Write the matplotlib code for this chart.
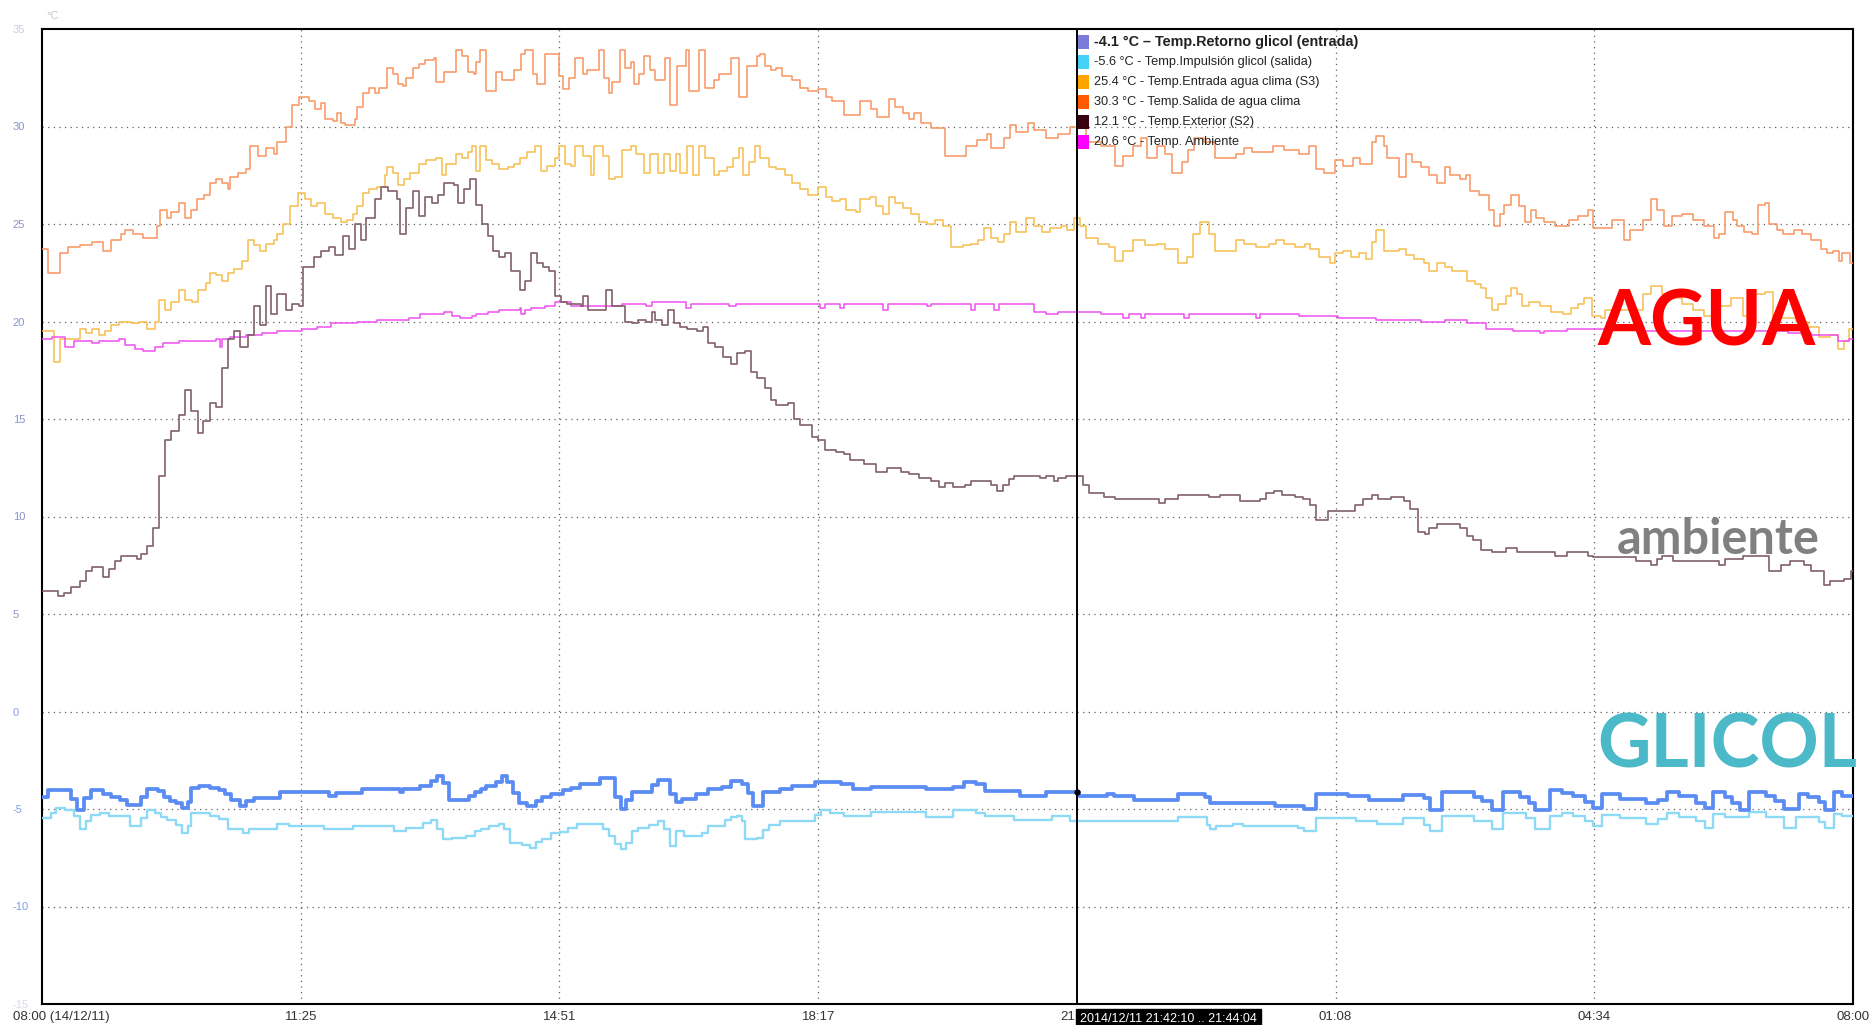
import matplotlib as mpl
mpl.use('Agg')
import matplotlib.pyplot as plt
import matplotlib.transforms as mtransforms

# time in hours after 08:00 (14/12/11), values in degC
# Temp.Salida de agua clima
salida = [(0.00, 23.7), (0.08, 22.5), (0.24, 23.5), (0.34, 23.8), (0.50, 23.9), (0.66, 24.1), (0.81, 23.6),
          (0.92, 24.2), (1.05, 24.5), (1.10, 24.7), (1.21, 24.5), (1.34, 24.3), (1.52, 24.9), (1.57, 25.7),
          (1.65, 25.3), (1.71, 25.6), (1.81, 26.1), (1.89, 25.3), (1.97, 25.7), (2.05, 26.3), (2.15, 26.5),
          (2.23, 27.1), (2.31, 27.3), (2.39, 27.1), (2.47, 26.8), (2.49, 27.4), (2.60, 27.6), (2.70, 27.8),
          (2.76, 29.0), (2.86, 28.5), (2.97, 28.9), (3.07, 28.6), (3.12, 29.2), (3.23, 30.0), (3.31, 31.1),
          (3.41, 31.5), (3.54, 31.3), (3.62, 30.9), (3.70, 31.2), (3.75, 30.4), (3.86, 30.3), (3.91, 30.7),
          (3.96, 30.2), (4.02, 30.1), (4.15, 30.4), (4.17, 31.0), (4.25, 31.7), (4.33, 32.0), (4.41, 31.7),
          (4.46, 32.0), (4.57, 33.0), (4.65, 32.7), (4.72, 32.2), (4.78, 32.1), (4.83, 32.5), (4.91, 33.0),
          (4.99, 33.2), (5.07, 33.4), (5.20, 33.5), (5.22, 32.3), (5.33, 32.8), (5.49, 33.9), (5.56, 33.6),
          (5.64, 32.8), (5.72, 32.7), (5.75, 33.3), (5.80, 33.9), (5.88, 31.8), (6.01, 32.8), (6.09, 32.4),
          (6.25, 32.9), (6.35, 33.7), (6.40, 33.9), (6.51, 32.7), (6.56, 32.2), (6.67, 33.7), (6.85, 32.6),
          (6.90, 31.9), (6.98, 32.5), (7.06, 33.5), (7.17, 32.7), (7.22, 32.9), (7.38, 33.9), (7.45, 32.5),
          (7.51, 31.7), (7.56, 32.3), (7.66, 33.9), (7.72, 33.0), (7.80, 33.3), (7.85, 32.2), (7.91, 32.7),
          (7.98, 33.6), (8.06, 32.9), (8.13, 32.4), (8.26, 33.5), (8.32, 31.1), (8.42, 33.1), (8.53, 33.9),
          (8.58, 31.8), (8.71, 33.9), (8.79, 32.0), (8.90, 32.4), (8.97, 32.7), (9.13, 33.5), (9.24, 31.5),
          (9.34, 33.1), (9.47, 33.6), (9.52, 33.7), (9.58, 33.1), (9.66, 32.9), (9.73, 33.0), (9.81, 32.6),
          (9.94, 32.4), (10.05, 32.0), (10.15, 31.8), (10.29, 31.9), (10.39, 31.5), (10.47, 31.3),
          (10.63, 30.6), (10.84, 31.3), (10.99, 30.9), (11.07, 30.5), (11.23, 31.4), (11.31, 31.0),
          (11.41, 30.7), (11.49, 30.4), (11.55, 30.7), (11.65, 30.2), (11.78, 29.9), (11.97, 28.5),
          (12.25, 29.0), (12.39, 29.3), (12.52, 29.6), (12.57, 28.9), (12.75, 29.4), (12.83, 30.1),
          (12.91, 29.7), (13.07, 30.2), (13.15, 29.8), (13.30, 29.4), (13.46, 29.6), (13.62, 30.0),
          (13.83, 29.2), (14.04, 29.0), (14.22, 28.0), (14.33, 28.5), (14.46, 29.0), (14.56, 29.4),
          (14.64, 28.4), (14.77, 29.0), (14.88, 28.6), (14.98, 27.6), (15.11, 28.2), (15.19, 28.8),
          (15.27, 29.4), (15.40, 29.2), (15.54, 28.4), (15.82, 28.6), (15.93, 28.9), (16.03, 28.7),
          (16.31, 29.0), (16.46, 28.8), (16.66, 28.6), (16.79, 29.0), (16.89, 27.8), (16.99, 27.6),
          (17.14, 28.3), (17.24, 28.0), (17.37, 28.4), (17.47, 28.1), (17.62, 29.2), (17.68, 29.5),
          (17.78, 29.0), (17.83, 28.4), (17.98, 27.4), (18.08, 28.6), (18.16, 28.2), (18.28, 27.9),
          (18.38, 27.5), (18.49, 27.1), (18.59, 27.9), (18.66, 27.5), (18.79, 27.3), (18.87, 27.5),
          (18.92, 26.7), (19.04, 26.5), (19.17, 25.7), (19.24, 24.9), (19.32, 25.5), (19.37, 26.0),
          (19.47, 26.5), (19.57, 25.9), (19.65, 25.1), (19.73, 25.7), (19.80, 25.3), (19.90, 25.1),
          (20.05, 24.9), (20.23, 25.2), (20.36, 25.4), (20.49, 25.7), (20.56, 24.8), (20.81, 25.2),
          (20.97, 24.2), (21.04, 24.7), (21.22, 25.2), (21.32, 26.3), (21.40, 25.7), (21.50, 24.9),
          (21.60, 25.4), (21.73, 25.5), (21.88, 25.2), (22.03, 24.9), (22.16, 24.3), (22.23, 24.5),
          (22.31, 25.6), (22.41, 25.2), (22.46, 24.9), (22.56, 24.6), (22.66, 24.5), (22.74, 26.0),
          (22.84, 26.1), (22.89, 25.0), (22.99, 24.7), (23.07, 24.5), (23.22, 24.7), (23.32, 24.5),
          (23.45, 24.2), (23.57, 23.7), (23.65, 23.5), (23.73, 23.6), (23.81, 23.1), (23.86, 23.5),
          (23.96, 23.0)]

# Temp.Entrada agua clima (S3)
entrada = [(0.00, 19.5), (0.16, 17.9), (0.24, 19.1), (0.50, 19.6), (0.58, 19.4), (0.66, 19.6), (0.76, 19.3),
           (0.84, 19.5), (0.92, 19.8), (1.02, 20.0), (1.18, 19.9), (1.29, 20.0), (1.39, 19.6), (1.50, 20.0),
           (1.55, 21.1), (1.63, 20.6), (1.71, 21.0), (1.81, 21.6), (1.89, 21.1), (1.99, 21.0), (2.07, 21.6),
           (2.18, 22.0), (2.23, 22.5), (2.31, 22.4), (2.39, 22.1), (2.47, 22.5), (2.55, 22.7), (2.65, 23.1),
           (2.73, 24.2), (2.81, 23.9), (2.89, 23.6), (2.97, 24.0), (3.07, 24.2), (3.12, 24.5), (3.20, 25.0),
           (3.28, 25.9), (3.39, 26.6), (3.49, 26.3), (3.57, 25.9), (3.65, 26.1), (3.75, 25.5), (3.86, 25.3),
           (3.96, 25.1), (4.04, 25.2), (4.12, 25.5), (4.17, 25.9), (4.25, 26.6), (4.33, 26.8), (4.44, 26.9),
           (4.54, 27.5), (4.57, 27.9), (4.65, 27.6), (4.72, 27.0), (4.80, 27.3), (4.88, 27.6), (4.99, 28.1),
           (5.09, 28.3), (5.22, 28.4), (5.30, 27.5), (5.35, 28.1), (5.49, 28.6), (5.56, 28.4), (5.64, 28.7),
           (5.70, 29.0), (5.75, 27.7), (5.80, 29.0), (5.88, 28.3), (5.96, 28.1), (6.06, 27.8), (6.17, 27.9),
           (6.25, 28.1), (6.33, 28.4), (6.43, 28.7), (6.54, 29.0), (6.61, 27.7), (6.69, 28.0), (6.80, 28.4),
           (6.85, 29.0), (6.93, 28.1), (7.01, 28.0), (7.06, 29.0), (7.17, 28.5), (7.27, 27.5), (7.32, 29.0),
           (7.43, 28.5), (7.51, 27.3), (7.59, 27.4), (7.69, 28.8), (7.80, 29.0), (7.87, 28.6), (7.98, 27.6),
           (8.06, 28.6), (8.16, 27.6), (8.24, 28.6), (8.32, 27.7), (8.40, 28.6), (8.45, 27.6), (8.55, 29.0),
           (8.63, 27.5), (8.71, 29.0), (8.79, 28.4), (8.90, 27.5), (8.97, 27.7), (9.08, 27.9), (9.16, 28.4),
           (9.24, 28.9), (9.29, 27.5), (9.37, 28.2), (9.45, 29.0), (9.52, 28.4), (9.63, 27.9), (9.73, 27.8),
           (9.84, 27.5), (9.94, 27.1), (10.05, 26.8), (10.15, 26.5), (10.29, 26.9), (10.39, 26.4),
           (10.47, 26.2), (10.57, 26.3), (10.65, 25.7), (10.79, 25.6), (10.84, 26.3), (10.97, 26.4),
           (11.05, 25.9), (11.15, 25.5), (11.23, 26.4), (11.31, 26.1), (11.41, 25.8), (11.52, 25.5),
           (11.62, 25.1), (11.73, 25.0), (11.83, 25.2), (11.94, 24.9), (12.04, 23.8), (12.20, 23.9),
           (12.31, 24.0), (12.41, 24.2), (12.49, 24.8), (12.57, 24.3), (12.67, 24.1), (12.75, 24.5),
           (12.83, 25.1), (12.91, 24.6), (13.04, 25.3), (13.15, 24.9), (13.25, 24.6), (13.36, 24.8),
           (13.51, 24.9), (13.59, 24.7), (13.67, 25.3), (13.75, 24.9), (13.83, 24.3), (13.99, 24.0),
           (14.14, 23.8), (14.22, 23.1), (14.33, 23.6), (14.46, 24.2), (14.62, 23.9), (14.77, 24.0),
           (14.88, 23.7), (15.06, 23.0), (15.17, 23.3), (15.25, 24.5), (15.35, 25.1), (15.46, 24.5),
           (15.54, 23.6), (15.82, 24.2), (15.93, 24.0), (16.09, 23.8), (16.26, 24.0), (16.36, 24.2),
           (16.46, 24.0), (16.61, 23.8), (16.74, 24.0), (16.81, 23.7), (16.92, 23.3), (17.07, 23.0),
           (17.14, 23.5), (17.24, 23.6), (17.35, 23.3), (17.45, 23.5), (17.55, 23.2), (17.62, 24.1),
           (17.68, 24.7), (17.78, 23.6), (17.98, 23.7), (18.08, 23.4), (18.18, 23.2), (18.31, 23.0),
           (18.38, 22.6), (18.49, 23.0), (18.59, 22.8), (18.69, 22.6), (18.89, 22.1), (18.99, 21.9),
           (19.07, 21.7), (19.14, 21.2), (19.22, 20.6), (19.30, 20.9), (19.40, 21.3), (19.47, 21.7),
           (19.55, 21.4), (19.62, 20.8), (19.70, 21.0), (19.85, 20.8), (20.00, 20.5), (20.16, 20.4),
           (20.26, 20.7), (20.36, 20.9), (20.43, 21.2), (20.54, 20.3), (20.66, 20.2), (20.71, 20.6),
           (21.22, 21.4), (21.32, 21.8), (21.47, 21.4), (21.57, 21.2), (21.73, 20.9), (21.88, 20.6),
           (22.03, 20.3), (22.23, 20.8), (22.38, 21.2), (22.54, 20.3), (22.69, 21.4), (22.84, 21.5),
           (22.94, 20.2), (23.25, 20.0), (23.40, 19.7), (23.55, 19.2), (23.70, 19.3), (23.80, 18.6),
           (23.88, 19.0), (23.95, 19.6)]

# Temp. Ambiente
ambiente = [(0.00, 19.1), (0.13, 19.2), (0.31, 18.7), (0.42, 19.0), (0.66, 18.9), (0.76, 19.0), (1.02, 19.1),
            (1.10, 18.8), (1.23, 18.6), (1.34, 18.5), (1.50, 18.7), (1.60, 18.9), (1.81, 19.0), (2.31, 19.1),
            (2.36, 18.7), (2.39, 19.1), (2.49, 19.2), (2.70, 19.3), (2.91, 19.4), (3.12, 19.5), (3.44, 19.6),
            (3.65, 19.7), (3.83, 19.9), (4.17, 20.0), (4.44, 20.1), (4.86, 20.2), (5.01, 20.4), (5.33, 20.5),
            (5.43, 20.3), (5.54, 20.2), (5.70, 20.3), (5.75, 20.4), (5.91, 20.5), (6.06, 20.6), (6.33, 20.7),
            (6.35, 20.4), (6.40, 20.6), (6.48, 20.7), (6.67, 20.8), (6.80, 21.0), (7.01, 20.8), (7.69, 20.9),
            (8.01, 20.8), (8.08, 21.0), (8.53, 20.7), (8.60, 20.9), (9.10, 20.8), (9.20, 20.9), (10.31, 20.7),
            (10.37, 20.9), (10.57, 20.7), (10.63, 20.9), (11.15, 20.6), (11.21, 20.9), (11.73, 20.8),
            (11.78, 20.9), (12.31, 20.6), (12.36, 20.9), (12.62, 20.6), (12.68, 20.9), (13.15, 20.5),
            (13.30, 20.4), (13.46, 20.5), (14.04, 20.4), (14.33, 20.2), (14.41, 20.4), (14.56, 20.2),
            (14.62, 20.4), (15.14, 20.2), (15.20, 20.4), (16.09, 20.2), (16.14, 20.4), (16.66, 20.3),
            (17.17, 20.2), (17.68, 20.1), (18.28, 20.0), (18.59, 20.1), (18.89, 19.9), (19.14, 19.6),
            (19.50, 19.5), (19.85, 19.4), (19.90, 19.5), (20.21, 19.6), (21.22, 19.5), (23.14, 19.4),
            (23.45, 19.3), (23.80, 19.0), (23.95, 19.1)]

# Temp.Exterior (S2)
exterior = [(0.00, 6.2), (0.21, 5.9), (0.29, 6.1), (0.39, 6.4), (0.50, 6.7), (0.58, 7.2), (0.66, 7.4), (0.81, 6.9),
            (0.89, 7.3), (0.97, 7.7), (1.05, 8.0), (1.26, 7.8), (1.31, 8.1), (1.39, 8.5), (1.47, 9.4), (1.55, 12.1),
            (1.63, 13.9), (1.71, 14.4), (1.81, 15.2), (1.89, 16.5), (1.97, 15.4), (2.07, 14.3), (2.13, 14.9),
            (2.23, 15.8), (2.31, 15.6), (2.39, 17.6), (2.47, 19.1), (2.55, 19.5), (2.62, 18.7), (2.73, 19.3),
            (2.81, 20.8), (2.89, 19.8), (2.97, 21.8), (3.04, 20.4), (3.12, 21.4), (3.23, 20.6), (3.31, 20.9),
            (3.41, 20.8), (3.46, 22.8), (3.60, 23.3), (3.70, 23.6), (3.81, 23.8), (3.88, 23.4), (3.99, 24.4),
            (4.07, 23.7), (4.15, 25.0), (4.23, 24.2), (4.30, 25.3), (4.41, 26.3), (4.49, 26.9), (4.59, 26.7),
            (4.70, 26.3), (4.75, 24.5), (4.83, 25.8), (4.91, 26.7), (4.99, 25.4), (5.07, 26.4), (5.17, 26.1),
            (5.25, 26.5), (5.33, 27.1), (5.46, 27.0), (5.51, 26.1), (5.59, 26.8), (5.67, 27.3), (5.75, 26.0),
            (5.83, 25.0), (5.91, 24.4), (5.98, 23.6), (6.06, 23.3), (6.14, 23.5), (6.22, 22.6), (6.33, 21.6),
            (6.40, 22.1), (6.48, 23.5), (6.56, 23.0), (6.64, 22.8), (6.72, 22.6), (6.80, 21.3), (6.88, 21.0),
            (6.96, 20.9), (7.14, 20.8), (7.17, 21.3), (7.24, 20.6), (7.48, 21.6), (7.56, 20.8), (7.72, 20.0),
            (7.82, 19.9), (7.90, 20.1), (8.01, 20.0), (8.08, 20.5), (8.13, 20.1), (8.21, 19.8), (8.29, 20.6),
            (8.37, 19.9), (8.45, 19.7), (8.55, 19.6), (8.68, 19.5), (8.76, 19.7), (8.82, 18.9), (8.92, 18.7),
            (9.03, 18.2), (9.13, 17.8), (9.21, 18.4), (9.31, 18.5), (9.39, 17.4), (9.47, 17.1), (9.58, 16.6),
            (9.66, 16.0), (9.73, 15.7), (9.89, 15.8), (9.97, 15.0), (10.05, 14.7), (10.21, 14.1), (10.29, 13.9),
            (10.37, 13.4), (10.52, 13.3), (10.63, 13.2), (10.71, 12.9), (10.89, 12.7), (11.05, 12.3),
            (11.20, 12.5), (11.39, 12.3), (11.49, 12.2), (11.62, 12.0), (11.78, 11.8), (11.89, 11.5),
            (11.97, 11.7), (12.07, 11.5), (12.23, 11.6), (12.31, 11.8), (12.57, 11.6), (12.65, 11.3),
            (12.73, 11.6), (12.81, 11.9), (12.88, 12.1), (13.23, 12.0), (13.30, 12.1), (13.41, 11.8),
            (13.46, 12.0), (13.57, 12.1), (13.80, 11.6), (13.88, 11.2), (14.07, 11.0), (14.22, 10.9),
            (14.80, 10.7), (14.88, 10.9), (15.06, 11.1), (15.46, 11.0), (15.61, 11.1), (15.88, 10.8),
            (16.14, 10.9), (16.22, 11.2), (16.33, 11.3), (16.43, 11.1), (16.61, 11.0), (16.71, 10.9),
            (16.81, 10.6), (16.89, 9.8), (17.04, 10.3), (17.40, 10.6), (17.50, 10.9), (17.62, 11.1),
            (17.70, 10.9), (17.88, 11.0), (18.05, 10.8), (18.13, 10.4), (18.23, 9.2), (18.33, 9.1),
            (18.38, 9.4), (18.49, 9.6), (18.79, 9.4), (18.89, 9.0), (18.97, 8.8), (19.07, 8.3), (19.22, 8.2),
            (19.40, 8.4), (19.55, 8.2), (20.05, 8.0), (20.21, 8.2), (20.49, 8.0), (20.56, 7.9), (21.12, 7.7),
            (21.22, 7.7), (21.32, 7.5), (21.40, 7.8), (21.47, 8.0), (21.62, 7.7), (22.23, 7.5), (22.31, 7.8),
            (22.54, 8.0), (22.89, 7.2), (23.04, 7.5), (23.17, 7.7), (23.35, 7.5), (23.45, 7.2), (23.62, 6.5),
            (23.70, 6.7), (23.88, 6.8), (23.97, 7.2)]

# Temp.Retorno glicol (entrada)
retorno = [(0.00, -4.36), (0.08, -4.05), (0.39, -4.49), (0.46, -5.03), (0.56, -4.44), (0.65, -4.05),
           (0.81, -4.22), (0.92, -4.41), (1.04, -4.56), (1.12, -4.78), (1.31, -4.36), (1.39, -3.95),
           (1.54, -4.10), (1.62, -4.41), (1.69, -4.61), (1.77, -4.69), (1.85, -4.95), (1.93, -4.66),
           (1.98, -3.93), (2.08, -3.81), (2.23, -3.93), (2.35, -4.05), (2.43, -4.22), (2.50, -4.53),
           (2.62, -4.83), (2.70, -4.61), (2.81, -4.44), (3.16, -4.15), (3.81, -4.32), (3.89, -4.19),
           (4.24, -3.98), (4.74, -4.15), (4.78, -3.98), (5.01, -3.81), (5.16, -3.54), (5.24, -3.31),
           (5.32, -3.68), (5.39, -4.53), (5.66, -4.32), (5.74, -4.15), (5.82, -3.98), (5.89, -3.81),
           (6.01, -3.64), (6.09, -3.31), (6.16, -3.64), (6.24, -4.19), (6.32, -4.69), (6.43, -4.83),
           (6.55, -4.61), (6.63, -4.41), (6.74, -4.22), (6.90, -4.05), (7.01, -3.93), (7.13, -3.71),
           (7.40, -3.42), (7.59, -4.36), (7.67, -5.00), (7.74, -4.53), (7.82, -4.15), (8.09, -3.76),
           (8.17, -3.51), (8.32, -4.22), (8.40, -4.66), (8.48, -4.49), (8.67, -4.22), (8.82, -3.98),
           (9.01, -3.88), (9.13, -3.54), (9.28, -3.71), (9.36, -4.19), (9.42, -4.83), (9.55, -4.15),
           (9.78, -3.98), (9.94, -3.81), (10.25, -3.64), (10.59, -3.71), (10.75, -3.95), (10.98, -3.85),
           (11.71, -3.98), (12.07, -3.85), (12.22, -3.64), (12.38, -3.71), (12.50, -4.10), (12.96, -4.32),
           (13.31, -4.15), (13.74, -4.32), (14.12, -4.22), (14.20, -4.32), (14.47, -4.53), (15.06, -4.22),
           (15.41, -4.41), (15.48, -4.69), (16.34, -4.83), (16.72, -5.00), (16.88, -4.22), (17.31, -4.32),
           (17.58, -4.53), (18.04, -4.27), (18.31, -4.44), (18.39, -5.03), (18.55, -4.15), (18.98, -4.41),
           (19.09, -4.61), (19.21, -5.03), (19.36, -4.15), (19.59, -4.41), (19.71, -4.69), (19.79, -5.03),
           (19.98, -4.05), (20.14, -4.19), (20.29, -4.32), (20.45, -4.66), (20.56, -4.95), (20.68, -4.22),
           (20.91, -4.49), (21.26, -4.69), (21.42, -4.53), (21.53, -4.15), (21.69, -4.32), (21.92, -4.69),
           (22.04, -4.95), (22.15, -4.15), (22.31, -4.41), (22.39, -4.69), (22.50, -5.03), (22.62, -4.15),
           (22.85, -4.32), (22.97, -4.61), (23.08, -5.00), (23.28, -4.22), (23.40, -4.41), (23.55, -4.66),
           (23.63, -5.03), (23.75, -4.15), (23.86, -4.32)]

# Temp.Impulsion glicol (salida)
impulsion = [(0.00, -5.46), (0.12, -5.20), (0.19, -4.95), (0.31, -5.03), (0.42, -5.37), (0.50, -6.05),
             (0.58, -5.63), (0.65, -5.29), (0.77, -5.20), (0.89, -5.37), (1.16, -5.88), (1.31, -5.46),
             (1.39, -5.03), (1.50, -5.20), (1.58, -5.41), (1.66, -5.58), (1.77, -5.80), (1.85, -6.25),
             (1.93, -5.88), (1.98, -5.20), (2.23, -5.37), (2.35, -5.51), (2.47, -6.05), (2.66, -6.25),
             (2.74, -6.05), (3.12, -5.75), (3.27, -5.85), (3.74, -6.02), (4.12, -5.85), (4.66, -6.14),
             (4.82, -5.97), (5.05, -5.71), (5.16, -5.58), (5.24, -6.05), (5.32, -6.56), (5.43, -6.47),
             (5.62, -6.36), (5.74, -6.14), (5.82, -6.02), (5.93, -5.85), (6.05, -5.75), (6.12, -6.05),
             (6.20, -6.73), (6.36, -6.86), (6.47, -6.98), (6.55, -6.69), (6.63, -6.53), (6.74, -6.22),
             (6.86, -6.19), (6.97, -5.97), (7.09, -5.75), (7.43, -6.02), (7.51, -6.39), (7.59, -6.81),
             (7.67, -7.03), (7.74, -6.73), (7.82, -6.14), (7.90, -5.97), (8.05, -5.80), (8.17, -5.63),
             (8.24, -6.05), (8.32, -6.90), (8.40, -6.14), (8.51, -6.36), (8.74, -6.25), (8.82, -5.88),
             (9.05, -5.58), (9.13, -5.41), (9.21, -5.34), (9.28, -5.63), (9.32, -6.56), (9.48, -6.47),
             (9.55, -6.08), (9.63, -5.80), (9.78, -5.63), (10.25, -5.29), (10.32, -5.03), (10.44, -5.20),
             (10.63, -5.34), (10.98, -5.17), (11.71, -5.41), (12.07, -5.07), (12.38, -5.20), (12.50, -5.34),
             (12.88, -5.54), (13.39, -5.34), (13.62, -5.63), (15.06, -5.41), (15.44, -5.80), (15.48, -6.05),
             (15.56, -5.85), (15.79, -5.75), (15.91, -5.85), (16.65, -5.97), (16.72, -6.14), (16.88, -5.46),
             (17.42, -5.63), (17.69, -5.75), (18.04, -5.46), (18.31, -5.80), (18.39, -6.14), (18.55, -5.34),
             (18.98, -5.63), (19.21, -6.05), (19.36, -5.20), (19.67, -5.46), (19.79, -6.05), (19.98, -5.34),
             (20.14, -5.20), (20.29, -5.37), (20.45, -5.63), (20.56, -5.88), (20.68, -5.29), (20.91, -5.46),
             (21.26, -5.75), (21.42, -5.51), (21.53, -5.20), (21.69, -5.41), (21.92, -5.63), (22.04, -5.97),
             (22.15, -5.24), (22.31, -5.41), (22.62, -5.17), (22.85, -5.41), (23.08, -5.97), (23.24, -5.41),
             (23.55, -5.68), (23.63, -5.97), (23.75, -5.24), (23.86, -5.34)]

legend_labels = ['-4.1 °C – Temp.Retorno glicol (entrada)',
                 '-5.6 °C - Temp.Impulsión glicol (salida)',
                 '25.4 °C - Temp.Entrada agua clima (S3)',
                 '30.3 °C - Temp.Salida de agua clima',
                 '12.1 °C - Temp.Exterior (S2)',
                 '20.6 °C - Temp. Ambiente']
legend_colors = ['#7b7bdb', '#45d2f8', '#ffa500', '#ff5a00', '#3a0010', '#ff00ff']

tick_pos = [i * 24 / 7 for i in range(8)]
tick_labels = ['', '11:25', '14:51', '18:17', '', '01:08', '04:34', '08:00']
first_label = '08:00 (14/12/11)'
cursor_h = 24 * 4 / 7
cursor_text = '2014/12/11 21:42:10 .. 21:44:04'


def draw(ax, data, color, lw, z):
    t = [p[0] for p in data] + [24]
    v = [p[1] for p in data] + [data[-1][1]]
    ax.step(t, v, where='post', color=color, lw=lw, zorder=z)


fig = plt.figure(figsize=(18.70, 10.25), dpi=100)
ax = fig.add_axes([42 / 1870, 21 / 1025, 1811 / 1870, 975 / 1025])
ax.set_xlim(0, 24)
ax.set_ylim(-14.9, 34.7)

# grid
for y in range(-10, 35, 5):
    ax.axhline(y, color='#606060', lw=0.9, ls=(0, (1, 3.5)), zorder=1)
for x in tick_pos[1:7]:
    if abs(x - cursor_h) > 0.01:
        ax.axvline(x, color='#606060', lw=0.9, ls=(0, (1, 3.5)), zorder=1)

draw(ax, salida, '#f99560', 1.1, 3)
draw(ax, entrada, '#f6bd4e', 1.1, 3)
draw(ax, ambiente, '#f050f0', 1.1, 4)
draw(ax, exterior, '#80606a', 1.2, 4)
draw(ax, impulsion, '#8ddaf7', 1.7, 3)
draw(ax, retorno, '#5b8cf3', 2.7, 4)

# cursor
ax.axvline(cursor_h, color='black', lw=1.4, zorder=6)
ax.plot([cursor_h], [-4.15], 'o', color='black', ms=3.5, zorder=7)

for sp in ax.spines.values():
    sp.set_linewidth(1.5)
    sp.set_color('black')

# y ticks
ax.set_yticks(range(-15, 40, 5))
ax.set_yticklabels([str(v) for v in range(-15, 40, 5)], fontsize=8, family='Liberation Sans')
ax.tick_params(axis='y', length=0, pad=21)
ycols = {-15: '#d8dce8', 35: '#c8cce0'}
for lab, v in zip(ax.get_yticklabels(), range(-15, 40, 5)):
    lab.set_ha('left')
    lab.set_color(ycols.get(v, '#7f9de8' if v <= 0 else '#8a93c8'))
fig.text(46 / 1870, 1 - 16 / 1025, '°C', fontsize=8, color='#c8c8c8', va='center', family='Liberation Sans')

# x ticks
ax.set_xticks(tick_pos)
ax.set_xticklabels(tick_labels, fontsize=9.5, color='#333333', family='Liberation Sans')
ax.tick_params(axis='x', length=0, pad=5)
fig.text(13 / 1870, 1 - 1017 / 1025, first_label, fontsize=9.5, color='#333333',
         family='Liberation Sans', ha='left', va='center')
fig.text(1075 / 1870, 1 - 1017 / 1025, '21', fontsize=9.5, color='#333333',
         family='Liberation Sans', ha='right', va='center')

trans = mtransforms.blended_transform_factory(ax.transData, ax.transAxes)
ax.text(cursor_h + 0.04, -0.0155, cursor_text, transform=trans, fontsize=9, color='white',
        family='Liberation Sans', ha='left', va='center', zorder=10, clip_on=False,
        bbox=dict(boxstyle='square,pad=0.3', fc='black', ec='black'))

# legend at cursor
for i, (lab, col) in enumerate(zip(legend_labels, legend_colors)):
    yy = 1 - (42 + i * 20) / 1025
    fig.patches.append(plt.Rectangle((1078 / 1870, yy - 7 / 1025), 11 / 1870, 14 / 1025,
                                     transform=fig.transFigure, fc=col, ec='none', zorder=8))
    fig.text(1094 / 1870, yy, lab, fontsize=10.4 if i == 0 else 9.2, color='#222222',
             va='center', ha='left', family='Liberation Sans',
             fontweight='bold' if i == 0 else 'normal', zorder=9)

# annotations
fig.text(1706 / 1870, 1 - 323 / 1025, 'AGUA', fontsize=55, color='#ff0000', fontweight='bold',
         family='Lato', ha='center', va='center', zorder=9)
fig.text(1718 / 1870, 1 - 540 / 1025, 'ambiente', fontsize=35, color='#808080', fontweight='bold',
         family='Lato', ha='center', va='center', zorder=9)
fig.text(1727 / 1870, 1 - 746 / 1025, 'GLICOL', fontsize=53, color='#4bb9c8', fontweight='bold',
         family='Lato', ha='center', va='center', zorder=9)

fig.savefig('out.png', dpi=100)
